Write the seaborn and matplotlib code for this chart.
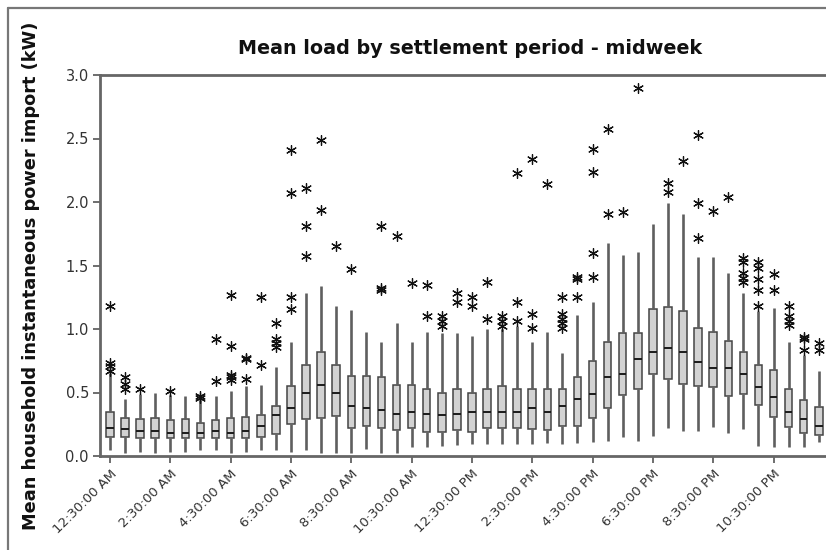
import numpy as np
import pandas as pd
import matplotlib
matplotlib.use("Agg")
import matplotlib.pyplot as plt
from matplotlib.lines import Line2D
import seaborn as sns

# ---- data ----
periods = list(range(1, 49))
whisker_low = [0.05, 0.02, 0.03, 0.02, 0.03, 0.03, 0.05, 0.05, 0.02, 0.03, 0.05, 0.05,
               0.03, 0.05, 0.02, 0.02, 0.02, 0.055, 0.02, 0.02, 0.07, 0.07, 0.08, 0.09,
               0.095, 0.095, 0.095, 0.095, 0.095, 0.10, 0.095, 0.10, 0.11, 0.12, 0.15, 0.12,
               0.16, 0.22, 0.20, 0.20, 0.23, 0.18, 0.21, 0.08, 0.07, 0.07, 0.07, 0.11]
q1 = [0.15, 0.15, 0.14, 0.14, 0.14, 0.14, 0.14, 0.14, 0.14, 0.14, 0.15, 0.17,
      0.25, 0.29, 0.30, 0.315, 0.22, 0.24, 0.22, 0.205, 0.22, 0.19, 0.19, 0.205,
      0.19, 0.22, 0.22, 0.22, 0.21, 0.205, 0.235, 0.235, 0.30, 0.375, 0.48, 0.53,
      0.645, 0.605, 0.57, 0.555, 0.545, 0.475, 0.49, 0.40, 0.305, 0.225, 0.18, 0.165]
median = [0.22, 0.21, 0.20, 0.20, 0.18, 0.18, 0.18, 0.20, 0.18, 0.20, 0.24, 0.32,
          0.38, 0.50, 0.56, 0.50, 0.39, 0.38, 0.36, 0.33, 0.35, 0.33, 0.32, 0.33,
          0.35, 0.35, 0.35, 0.35, 0.375, 0.35, 0.39, 0.45, 0.49, 0.62, 0.645, 0.765,
          0.82, 0.85, 0.82, 0.74, 0.69, 0.69, 0.645, 0.54, 0.465, 0.35, 0.29, 0.24]
q3 = [0.35, 0.30, 0.29, 0.30, 0.28, 0.29, 0.26, 0.28, 0.30, 0.31, 0.32, 0.39,
      0.55, 0.72, 0.82, 0.72, 0.63, 0.63, 0.62, 0.56, 0.56, 0.53, 0.50, 0.525,
      0.50, 0.525, 0.55, 0.53, 0.525, 0.53, 0.53, 0.62, 0.75, 0.90, 0.97, 0.97,
      1.155, 1.175, 1.145, 1.01, 0.975, 0.905, 0.815, 0.715, 0.675, 0.525, 0.44, 0.385]
whisker_high = [0.65, 0.45, 0.49, 0.50, 0.48, 0.47, 0.44, 0.47, 0.51, 0.55, 0.56, 0.70,
                0.90, 1.28, 1.34, 1.18, 1.15, 0.98, 0.90, 1.05, 0.90, 0.98, 0.97, 0.97,
                0.945, 1.00, 1.00, 1.02, 0.90, 0.98, 0.81, 1.11, 1.215, 1.675, 1.58, 1.61,
                1.83, 1.99, 1.905, 1.57, 1.57, 1.44, 1.285, 1.145, 1.165, 0.895, 0.795, 0.67]
outliers = [
    [1.18, 0.73, 0.71, 0.67], [0.62, 0.57, 0.53], [0.53], [], [0.51], [],
    [0.47, 0.46], [0.92, 0.59], [1.27, 0.87, 0.64, 0.62, 0.60], [0.77, 0.76, 0.61],
    [1.25, 0.72], [1.05, 0.92, 0.89, 0.86],
    [2.41, 2.07, 1.25, 1.16], [2.11, 1.81, 1.575], [2.49, 1.94], [1.65], [1.47], [],
    [1.81, 1.32, 1.31], [1.73], [1.36], [1.35, 1.10], [1.10, 1.06, 1.02], [1.28, 1.21],
    [1.25, 1.18], [1.37, 1.08], [1.10, 1.06, 1.02], [2.23, 1.21, 1.06], [2.34, 1.12, 1.01],
    [2.14], [1.25, 1.12, 1.08, 1.045, 1.005], [1.41, 1.39, 1.25],
    [2.415, 2.24, 1.60, 1.41], [2.575, 1.905], [1.925], [2.895],
    [], [2.15, 2.08], [2.325], [2.53, 1.99, 1.715], [1.93], [2.04],
    [1.56, 1.53, 1.44, 1.40, 1.37], [1.53, 1.48, 1.39, 1.31, 1.185], [1.43, 1.31],
    [1.185, 1.10, 1.06, 1.03], [0.935, 0.92, 0.835], [0.89, 0.835],
]
tick_labels = ["12:30:00 AM", "2:30:00 AM", "4:30:00 AM", "6:30:00 AM", "8:30:00 AM",
               "10:30:00 AM", "12:30:00 PM", "2:30:00 PM", "4:30:00 PM", "6:30:00 PM",
               "8:30:00 PM", "10:30:00 PM"]
y_ticks = [0.0, 0.5, 1.0, 1.5, 2.0, 2.5, 3.0]

# ---- tables for seaborn ----
rows = []
for p, a, b, c, d, e in zip(periods, whisker_low, q1, median, q3, whisker_high):
    for v in (a, b, c, d, e):
        rows.append({"period": p, "load": v})
box_df = pd.DataFrame(rows)

out_rows = []
for i, vals in enumerate(outliers):
    for v in vals:
        out_rows.append({"pos": i, "load": v})
out_df = pd.DataFrame(out_rows)

# ---- figure ----
sns.set_style("white")
plt.rcParams["font.family"] = ["DejaVu Sans"]

W, H = 826, 550
fig = plt.figure(figsize=(W / 100, H / 100), dpi=100)
slot = 15.08
x0_pix, left_pix, bottom_pix, top_pix = 110, 100, 456, 75
xmin = -(x0_pix - left_pix) / slot
xmax = 47.6
ax = fig.add_axes([left_pix / W, 1 - bottom_pix / H,
                   (xmax - xmin) * slot / W, (bottom_pix - top_pix) / H])

edge = "#444444"
sns.boxplot(data=box_df, x="period", y="load", ax=ax, whis=(0, 100),
            width=0.5, color="#d2d2d2", linecolor=edge, linewidth=1.1,
            fliersize=0, showcaps=False, saturation=1,
            whiskerprops=dict(color="#5f5f5f", linewidth=1.9),
            medianprops=dict(color="#1a1a1a", linewidth=1.4),
            boxprops=dict(edgecolor=edge, linewidth=1.1))

sns.scatterplot(data=out_df, x="pos", y="load", ax=ax, marker=(6, 2, 0),
                s=50, color="#111111", linewidth=0.9, legend=False, zorder=5)

ax.set_xlim(xmin, xmax)
ax.set_ylim(0, 3.0)
ax.set_yticks(y_ticks)
ax.set_yticklabels([f"{t:.1f}" for t in y_ticks], fontsize=10.5, color="#333333")
ax.set_xticks(list(range(0, 48, 4)))
ax.set_xticklabels(tick_labels, rotation=45, ha="right", rotation_mode="anchor",
                   fontsize=9.5, color="#333333")
ax.tick_params(axis="both", which="both", direction="out", length=5, width=1.2,
               color="#555555", left=True, bottom=True, pad=3)
ax.set_xlabel("")
ax.set_ylabel("")
for s in ["left", "bottom", "top"]:
    ax.spines[s].set_color("#666666")
    ax.spines[s].set_linewidth(2.0)
ax.spines["right"].set_visible(False)

fig.text(470 / W, 1 - 48 / H, "Mean load by settlement period - midweek",
         ha="center", va="center", fontsize=13.8, fontweight="bold", color="#111111")
fig.text(31 / W, 1 - 276 / H, "Mean household instantaneous power import (kW)",
         ha="center", va="center", rotation=90, fontsize=12.8, fontweight="bold",
         color="#111111")

# outer frame lines (left and top)
fig.add_artist(Line2D([8 / W, 8 / W], [0, 1 - 8 / H], transform=fig.transFigure,
                      color="#777777", linewidth=1.6))
fig.add_artist(Line2D([8 / W, 1], [1 - 8 / H, 1 - 8 / H], transform=fig.transFigure,
                      color="#777777", linewidth=1.6))

fig.savefig("out.png", dpi=100)
